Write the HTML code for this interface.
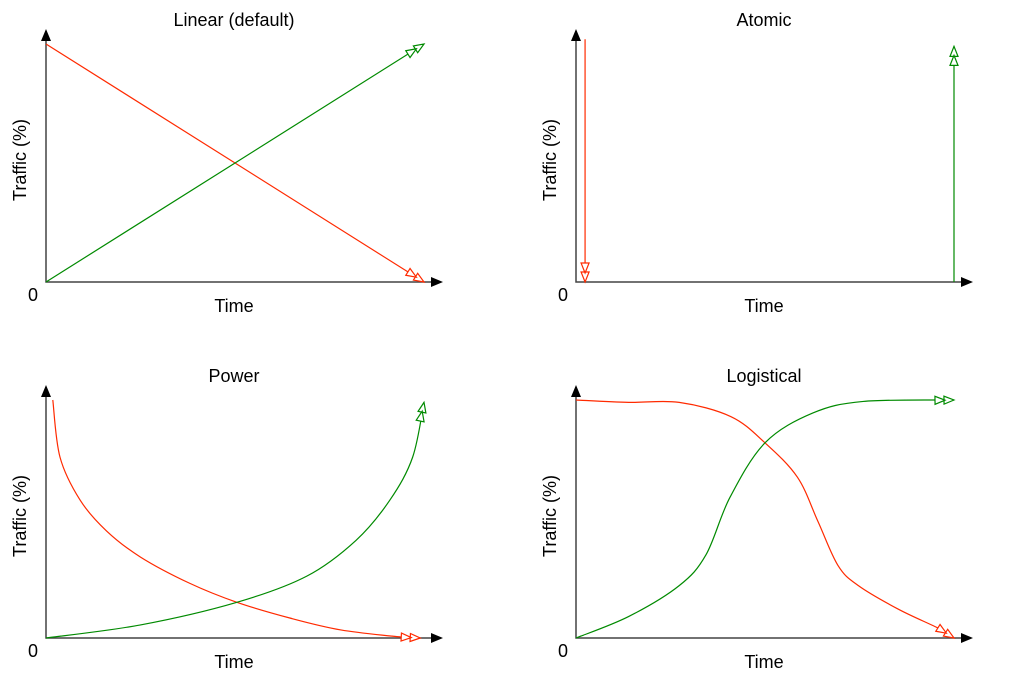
<!DOCTYPE html>
<html><head><meta charset="utf-8"><style>
html,body{margin:0;padding:0;background:#fff;}
svg{display:block;font-family:"Liberation Sans",sans-serif;}
</style></head><body>
<svg id="chart" width="1010" height="682" viewBox="0 0 1010 682"></svg>
<script>
// Data: time fraction (0..1) and traffic fraction (0..1)
const panelTitles = ["Linear (default)", "Atomic", "Power", "Logistical"];
const linearRedT = [0, 1];
const linearRedV = [1, 0];
const linearGreenT = [0, 1];
const linearGreenV = [0, 1];
const atomicRedT = [0.024, 0.024];
const atomicRedV = [1.02, 0];
const atomicGreenT = [1.0, 1.0];
const atomicGreenV = [0, 0.99];
const powerRedT = [0.018, 0.037, 0.09, 0.16, 0.25, 0.38, 0.505, 0.645, 0.78, 0.94, 0.99];
const powerRedV = [1.0, 0.76, 0.58, 0.45, 0.34, 0.23, 0.15, 0.084, 0.034, 0.004, 0.0];
const powerGreenT = [0, 0.25, 0.505, 0.69, 0.82, 0.91, 0.97, 1.0];
const powerGreenV = [0, 0.055, 0.15, 0.26, 0.41, 0.58, 0.76, 0.99];
const logRedT = [0, 0.139, 0.273, 0.41, 0.5, 0.586, 0.64, 0.693, 0.747, 0.854, 0.96, 1.0];
const logRedV = [1.0, 0.99, 0.99, 0.93, 0.82, 0.675, 0.49, 0.305, 0.22, 0.12, 0.04, 0.0];
const logGreenT = [0, 0.139, 0.273, 0.344, 0.407, 0.5, 0.626, 0.76, 1.0];
const logGreenV = [0, 0.09, 0.22, 0.35, 0.59, 0.82, 0.945, 0.994, 1.0];

const NS = "http://www.w3.org/2000/svg";
const svg = document.getElementById("chart");
function mk(tag, attrs, parent) {
  const e = document.createElementNS(NS, tag);
  for (const k in attrs) e.setAttribute(k, attrs[k]);
  (parent || svg).appendChild(e);
  return e;
}
const panels = [
  {ox: 46, oy: 282, series: [[linearRedT, linearRedV, "#ff2a00", false], [linearGreenT, linearGreenV, "#008a00", false]]},
  {ox: 576, oy: 282, series: [[atomicRedT, atomicRedV, "#ff2a00", false], [atomicGreenT, atomicGreenV, "#008a00", false]]},
  {ox: 46, oy: 638, series: [[powerRedT, powerRedV, "#ff2a00", true], [powerGreenT, powerGreenV, "#008a00", true]]},
  {ox: 576, oy: 638, series: [[logRedT, logRedV, "#ff2a00", true], [logGreenT, logGreenV, "#008a00", true]]}
];
const W = 378, H = 238;
panels.forEach((p, i) => {
  const g = mk("g", {});
  
  
  const sx = t => p.ox + t * W;
  const sy = v => p.oy - v * H;
  const title = mk("text", {x: p.ox + 188, y: p.oy - 256, "text-anchor": "middle", "font-size": 18, fill: "#000"}, g);
  title.textContent = panelTitles[i];
  
  
  const ax = mk("path", {d: `M${p.ox},${p.oy - 242} V${p.oy} H${p.ox + 388}`, stroke: "#444", "stroke-width": 1.5, fill: "none"}, g);
  
  
  const ay = mk("path", {d: `M${p.ox},${p.oy - 253} l-5,12 h10z M${p.ox + 397},${p.oy} l-12,-5 v10z`, fill: "#000"}, g);
  
  
  const yl = mk("text", {transform: `translate(${p.ox - 20},${p.oy - 122}) rotate(-90)`, "text-anchor": "middle", "font-size": 18}, g);
  yl.textContent = "Traffic (%)";
  
  
  const xl = mk("text", {x: p.ox + 188, y: p.oy + 30, "text-anchor": "middle", "font-size": 18}, g);
  xl.textContent = "Time";
  
  
  const z = mk("text", {x: p.ox - 13, y: p.oy + 19, "text-anchor": "middle", "font-size": 18}, g);
  z.textContent = "0";
  
  
  p.series.forEach(([T, V, col, smooth], si) => {
    const pts = T.map((t, k) => [sx(t), sy(V[k])]);
    let d = `M${pts[0][0]},${pts[0][1]}`;
    if (smooth && pts.length > 2) {
      for (let k = 0; k < pts.length - 1; k++) {
        const p0 = pts[Math.max(0, k - 1)], p1 = pts[k], p2 = pts[k + 1], p3 = pts[Math.min(pts.length - 1, k + 2)];
        const c1 = [p1[0] + (p2[0] - p0[0]) / 6, p1[1] + (p2[1] - p0[1]) / 6];
        const c2 = [p2[0] - (p3[0] - p1[0]) / 6, p2[1] - (p3[1] - p1[1]) / 6];
        d += ` C${c1[0]},${c1[1]} ${c2[0]},${c2[1]} ${p2[0]},${p2[1]}`;
      }
    } else {
      for (let k = 1; k < pts.length; k++) d += ` L${pts[k][0]},${pts[k][1]}`;
    }
    const line = mk("path", {d, stroke: col, "stroke-width": 1.2, fill: "none"}, g);
    
    
    const e = pts[pts.length - 1], b = pts[pts.length - 2];
    let dx = e[0] - b[0], dy = e[1] - b[1];
    const L = Math.hypot(dx, dy) || 1; dx /= L; dy /= L;
    const nx = -dy, ny = dx;
    for (let a = 0; a < 2; a++) {
      const tx = e[0] - dx * 9 * a, ty = e[1] - dy * 9 * a;
      const bx = tx - dx * 10, by = ty - dy * 10;
      const tri = mk("path", {d: `M${tx},${ty} L${bx + nx * 4},${by + ny * 4} L${bx - nx * 4},${by - ny * 4}Z`, stroke: col, "stroke-width": 1.2, fill: "#fff"}, g);
      
      
    }
  });
});
</script>
</body></html>
